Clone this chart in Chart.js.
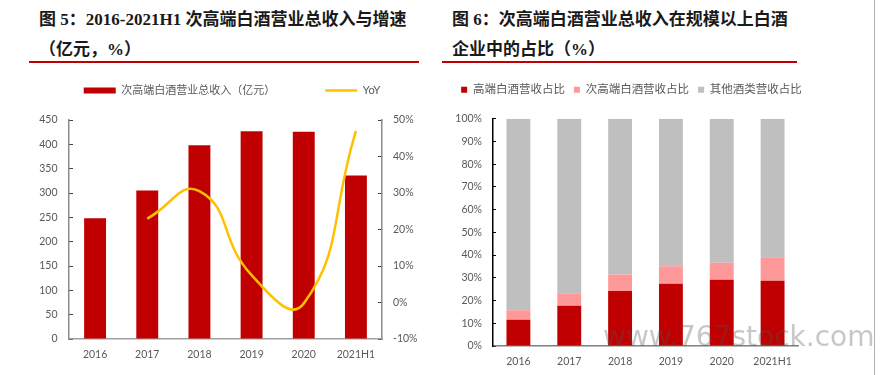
<!DOCTYPE html>
<html>
<head>
<meta charset="utf-8">
<script src="https://cdn.jsdelivr.net/npm/chart.js@4.4.0/dist/chart.umd.min.js"></script>
<style>
  body { margin: 0; background: #fff; width: 882px; height: 375px; position: relative; overflow: hidden; }
  .title { position: absolute; top: 5px; font-family: 'Liberation Serif', 'Noto Sans CJK SC', serif; font-size: 17px; font-weight: bold; line-height: 30px; color: #1a1a1a; white-space: nowrap; }
  .rule { position: absolute; top: 61px; height: 2px; background: #c00000; }
  .box { position: absolute; }
  .mark { position: absolute; left: 603px; top: 323px; font-family: 'DejaVu Sans', sans-serif; font-size: 28px; line-height: 28px; color: rgba(80,80,80,0.32); white-space: nowrap; pointer-events: none; }
  .edge { position: absolute; left: 874px; top: 0; width: 1px; height: 375px; background: #b0b0b0; }
</style>
</head>
<body>
<div class="title" style="left:39px">图 5：2016-2021H1 次高端白酒营业总收入与增速<br>（亿元，%）</div>
<div class="rule" style="left:29px;width:390px"></div>
<div class="title" style="left:452px">图 6：次高端白酒营业总收入在规模以上白酒<br>企业中的占比（%）</div>
<div class="rule" style="left:442px;width:355px"></div>
<div class="edge"></div>

<div class="box" style="left:0;top:35px;width:441px;height:340px"><canvas id="grafico5"></canvas></div>
<div class="box" style="left:441px;top:70px;width:441px;height:305px"><canvas id="grafico6"></canvas></div>
<div class="mark">www.767stock.com</div>

<script>
// datos
const years = ['2016', '2017', '2018', '2019', '2020', '2021H1'];
const ingresos = [248, 305, 398, 427, 426, 336];          // 亿元
const yoy = [null, 23, 30.5, 7.5, -0.3, 47];              // %
const altoGama = [11.6, 17.7, 24.2, 27.4, 29.2, 28.7];    // 高端白酒营收占比
const subAltoGama = [4.1, 5.5, 7.3, 7.7, 7.4, 10.3];      // 次高端白酒营收占比
const otros = [84.3, 76.8, 68.5, 64.9, 63.4, 61.0];       // 其他酒类营收占比
const ticksIzq = { min: 0, max: 450, step: 50 };
const ticksDer = { min: -10, max: 50, step: 10 };
const ticksPct = { min: 0, max: 100, step: 10 };

Chart.defaults.font.family = "Lato, 'Noto Sans CJK SC', sans-serif";
Chart.defaults.color = '#595959';
Chart.defaults.animation = false;

const grisTexto = '#595959';

// titulo vacio que solo deja hueco entre leyenda y grafico
const hueco = (pb) => ({ display: true, text: '', weight: 500, font: { size: 10 }, padding: { top: 0, bottom: pb } });

new Chart(document.getElementById('grafico5'), {
    type: 'bar',
    data: {
        labels: years,
        datasets: [{
            type: 'line',
            label: 'YoY',
            data: yoy,
            yAxisID: 'y1',
            borderColor: '#ffc000',
            backgroundColor: '#ffc000',
            borderWidth: 2.5,
            pointRadius: 0,
            pointStyle: 'line',
            pointBorderColor: '#ffc000',
            pointBorderWidth: 2.5,
            tension: 0.5
        }, {
            label: '次高端白酒营业总收入（亿元）',
            data: ingresos,
            yAxisID: 'y',
            backgroundColor: '#c00000',
            borderWidth: 0,
            pointStyle: 'rect',
            barPercentage: 0.42,
            categoryPercentage: 1
        }]
    },
    options: {
        responsive: true,
        maintainAspectRatio: false,
        layout: { padding: { left: 23, right: 0, top: 0, bottom: 0 } },
        plugins: {
            tooltip: { enabled: false },
            title: hueco(2),
            legend: {
                position: 'top',
                labels: {
                    usePointStyle: true,
                    pointStyleWidth: 32,
                    boxHeight: 6,
                    padding: 50,
                    color: grisTexto,
                    font: { size: 11 },
                    sort: (a, b) => b.datasetIndex - a.datasetIndex
                }
            }
        },
        scales: {
            x: {
                grid: { display: false, drawTicks: false, tickLength: 0 },
                border: { color: '#a0a0a0', width: 1.5 },
                ticks: { color: grisTexto, font: { size: 10.5 }, padding: 9.5 },
                afterFit: s => { s.height = 36; }
            },
            y: {
                position: 'left',
                min: ticksIzq.min,
                max: ticksIzq.max,
                ticks: { stepSize: ticksIzq.step, color: grisTexto, font: { size: 10.5 }, padding: 15.5 },
                grid: { drawOnChartArea: false, tickLength: -4, tickColor: '#404040' },
                border: { color: '#8c8c8c', width: 1.5 },
                afterFit: s => { s.width = 46; }
            },
            y1: {
                position: 'right',
                min: ticksDer.min,
                max: ticksDer.max,
                ticks: { stepSize: ticksDer.step, color: grisTexto, font: { size: 10.5 }, padding: 15, callback: v => v + '%' },
                grid: { drawOnChartArea: false, tickLength: -4, tickColor: '#404040' },
                border: { color: '#8c8c8c', width: 1.5 },
                afterFit: s => { s.width = 59; }
            }
        }
    }
});

new Chart(document.getElementById('grafico6'), {
    type: 'bar',
    data: {
        labels: years,
        datasets: [{
            label: '高端白酒营收占比',
            data: altoGama,
            backgroundColor: '#c00000'
        }, {
            label: '次高端白酒营收占比',
            data: subAltoGama,
            backgroundColor: '#ff9999'
        }, {
            label: '其他酒类营收占比',
            data: otros,
            backgroundColor: '#bfbfbf'
        }]
    },
    options: {
        responsive: true,
        maintainAspectRatio: false,
        layout: { padding: { left: 0, right: 60, top: 5, bottom: 0 } },
        datasets: { bar: { barPercentage: 0.47, categoryPercentage: 1, borderWidth: 0 } },
        plugins: {
            tooltip: { enabled: false },
            title: hueco(1.2),
            legend: {
                position: 'top',
                labels: {
                    boxWidth: 6,
                    boxHeight: 6,
                    padding: 9,
                    color: grisTexto,
                    font: { size: 11.5 }
                }
            }
        },
        scales: {
            x: {
                stacked: true,
                grid: { display: false, drawTicks: false, tickLength: 0 },
                border: { color: '#7f7f7f', width: 1.5 },
                ticks: { color: grisTexto, font: { size: 10.5 }, padding: 9.5 },
                afterFit: s => { s.height = 29; s.paddingRight = 84; }
            },
            y: {
                stacked: true,
                min: ticksPct.min,
                max: ticksPct.max,
                ticks: { stepSize: ticksPct.step, color: grisTexto, font: { size: 10.5 }, padding: 14, callback: v => v + '%' },
                grid: { drawOnChartArea: false, tickLength: -3, tickColor: '#000' },
                border: { color: '#000', width: 1.5 },
                afterFit: s => { s.width = 52; }
            }
        }
    }
});
</script>
</body>
</html>
